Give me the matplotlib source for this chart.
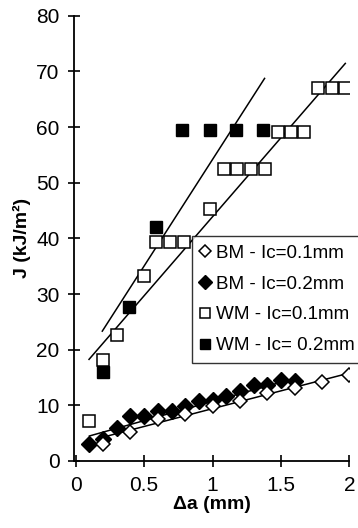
import numpy as np
import matplotlib
matplotlib.use('Agg')
import matplotlib.pyplot as plt

plt.rcParams['font.family'] = ['Liberation Sans', 'DejaVu Sans']

# BM - Ic=0.1mm (open diamonds)
bm01_x = [0.2, 0.4, 0.6, 0.8, 1.0, 1.2, 1.4, 1.6, 1.8, 2.0]
bm01_J = [3.1, 5.2, 7.6, 8.4, 9.9, 10.7, 12.2, 13.1, 14.1, 15.4]

# BM - Ic=0.2mm (filled diamonds)
bm02_x = [0.1, 0.2, 0.3, 0.4, 0.5, 0.6, 0.7, 0.8, 0.9, 1.0, 1.1, 1.2, 1.3, 1.4, 1.5, 1.6]
bm02_J = [3.0, 4.0, 5.9, 8.1, 8.1, 8.9, 8.9, 9.9, 10.7, 10.9, 11.6, 12.6, 13.7, 13.7, 14.5, 14.3]

# WM - Ic=0.1mm (open squares)
wm01_x = [0.1, 0.2, 0.3, 0.5, 0.59, 0.69, 0.79, 0.98, 1.08, 1.18, 1.28, 1.38,
          1.48, 1.57, 1.67, 1.77, 1.87, 1.97]
wm01_J = [7.2, 18.2, 22.6, 33.2, 39.4, 39.4, 39.4, 45.3, 52.4, 52.4, 52.4, 52.4,
          59.2, 59.2, 59.2, 67.1, 67.1, 67.1]

# WM - Ic=0.2mm (filled squares)
wm02_x = [0.2, 0.39, 0.59, 0.78, 0.98, 1.17, 1.37]
wm02_J = [16.0, 27.6, 42.0, 59.4, 59.4, 59.4, 59.4]

# fitted lines: (x_start, x_end, intercept, slope)
fit_bm01 = (0.2, 2.0, 3.0, 6.4)
fit_bm02 = (0.1, 1.6, 3.8, 6.9)
fit_wm01 = (0.097, 1.97, 15.5, 28.4)
fit_wm02 = (0.194, 1.38, 15.9, 38.3)

labels = ['BM - Ic=0.1mm', 'BM - Ic=0.2mm', 'WM - Ic=0.1mm', 'WM - Ic= 0.2mm']

fig = plt.figure(figsize=(3.58, 5.28), dpi=100)
ax = fig.add_axes([0.207, 0.127, 0.769, 0.843])

for x0, x1, b, m in [fit_bm01, fit_bm02, fit_wm01, fit_wm02]:
    xs = np.array([x0, x1])
    ax.plot(xs, b + m * xs, color='black', lw=1.1, zorder=1)

h1, = ax.plot(bm01_x, bm01_J, 'D', ms=7, mfc='white', mec='black', mew=1.1, ls='none', zorder=3)
h2, = ax.plot(bm02_x, bm02_J, 'D', ms=8, mfc='black', mec='black', ls='none', zorder=2)
h3, = ax.plot(wm01_x, wm01_J, 's', ms=8, mfc='white', mec='black', mew=1.1, ls='none', zorder=3)
h4, = ax.plot(wm02_x, wm02_J, 's', ms=8.5, mfc='black', mec='black', ls='none', zorder=2)

ax.set_xlim(-0.012, 2.0)
ax.set_ylim(0, 80)
ax.set_xticks([0, 0.5, 1, 1.5, 2])
ax.set_xticklabels(['0', '0.5', '1', '1.5', '2'])
ax.set_yticks(range(0, 81, 10))

for s in ['top', 'right']:
    ax.spines[s].set_visible(False)
for s in ['left', 'bottom']:
    ax.spines[s].set_linewidth(1.3)
    ax.spines[s].set_clip_on(False)

ax.tick_params(direction='inout', length=9, width=1.2, labelsize=15, pad=6)

ax.set_xlabel('Δa (mm)', fontsize=14, fontweight='bold', labelpad=1)
ax.set_ylabel('J (kJ/m²)', fontsize=14, fontweight='bold', labelpad=4)

leg = fig.legend([h1, h2, h3, h4], labels, loc='upper left',
                 bbox_to_anchor=(192 / 358, 1 - 236 / 528),
                 fontsize=13.6, frameon=True, fancybox=False, edgecolor='black',
                 handlelength=0.5, handletextpad=0.3, borderpad=0.45,
                 labelspacing=0.72, borderaxespad=0, markerscale=0.85)
leg.get_frame().set_linewidth(1.0)

plt.savefig('out.png', dpi=100)
plt.close()
